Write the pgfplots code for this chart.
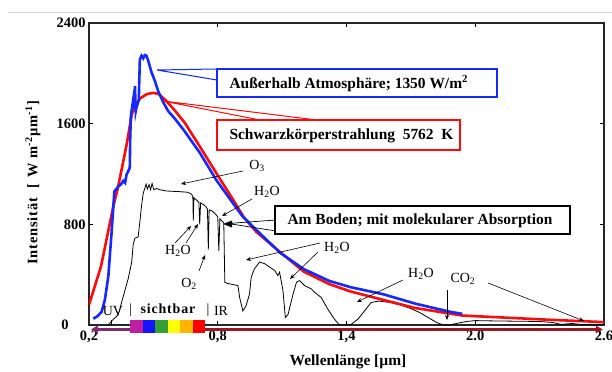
\documentclass[border=0pt]{standalone}
\usepackage{fontspec}
\setmainfont{Liberation Serif}
\newfontfamily\spaced[LetterSpace=6]{Liberation Serif}
\usepackage{pgfplots}
\pgfplotsset{compat=1.18}
\usetikzlibrary{arrows.meta}

\definecolor{extblue}{RGB}{20,40,255}
\definecolor{bbred}{RGB}{255,10,10}
\definecolor{axpurple}{RGB}{125,45,110}
\definecolor{axred}{RGB}{150,25,35}
\definecolor{rulecol}{RGB}{200,215,240}
\definecolor{specmag}{RGB}{190,30,160}
\definecolor{specblue}{RGB}{20,20,255}
\definecolor{specgreen}{RGB}{50,160,50}
\definecolor{specyellow}{RGB}{255,255,0}
\definecolor{specorange}{RGB}{255,180,0}
\definecolor{specred}{RGB}{255,0,0}

\newcommand\boxfont{\fontsize{15.5}{17}\selectfont\bfseries}
\newcommand\lblfont{\fontsize{14}{16}\selectfont}

\begin{document}
\begin{tikzpicture}
\begin{axis}[
  at={(0,0)}, anchor=south west,
  scale only axis, width=515bp, height=302bp,
  xmin=0.2, xmax=2.6, ymin=0, ymax=2400,
  axis line style={line width=1.2bp, black!85},
  xtick={0.2,0.8,1.4,2.0,2.6},
  xticklabels={{0,2},{0,8},{1,4},{2.0},{2.6}},
  ytick={0,800,1600,2400},
  yticklabels={{0\hspace*{17bp}},800,1600,2400},
  tick align=inside, major tick length=4bp,
  tick style={black, line width=0.8bp},
  ticklabel style={font=\fontsize{14.5}{16}\selectfont\bfseries},
  xticklabel style={yshift=-2bp},
]
% ground-level spectrum with molecular absorption bands
\addplot[black, line width=0.8bp] coordinates {
(0.29,0) (0.31,40) (0.336,80) (0.36,230) (0.383,370) (0.399,500) (0.406,640)
(0.414,690) (0.429,700) (0.437,820) (0.445,950) (0.453,1050) (0.46,1085)
(0.466,1120) (0.472,1080) (0.48,1115) (0.487,1075) (0.494,1125) (0.502,1075)
(0.515,1085) (0.53,1075) (0.56,1065) (0.62,1060) (0.66,1055) (0.678,1040)
(0.684,1020) (0.686,830) (0.689,1010) (0.70,995) (0.712,975) (0.716,800)
(0.72,970) (0.735,955) (0.745,940) (0.752,920) (0.756,600) (0.760,915)
(0.775,905) (0.79,880) (0.80,860) (0.805,590) (0.81,845) (0.82,825)
(0.828,815) (0.833,340) (0.845,330) (0.856,327) (0.894,313) (0.902,219)
(0.917,112) (0.932,153) (0.948,246) (0.956,380) (0.971,447) (0.995,500)
(1.019,487) (1.042,460) (1.065,434) (1.08,393) (1.088,420) (1.104,273)
(1.115,59) (1.128,86) (1.151,246) (1.167,340) (1.181,353) (1.205,313)
(1.236,287) (1.251,260) (1.282,219) (1.313,126) (1.344,46) (1.367,0)
(1.398,0) (1.422,5) (1.453,46) (1.484,112) (1.515,179) (1.55,190)
(1.60,180) (1.65,160) (1.70,130) (1.74,100) (1.78,60) (1.82,20) (1.85,0)
(1.88,0) (1.92,15) (1.96,28) (2.0,35) (2.1,32) (2.2,30) (2.3,28) (2.36,20)
(2.4,5) (2.45,12) (2.5,3) (2.55,0) (2.6,5)
};
% black body at 5762 K
\addplot[bbred, line width=2.6bp] coordinates {
(0.2,160) (0.256,466) (0.313,940) (0.336,1100) (0.375,1430) (0.40,1680)
(0.437,1800) (0.47,1835) (0.5,1845) (0.525,1835) (0.555,1790) (0.6,1705)
(0.647,1605) (0.716,1420) (0.794,1205) (0.87,1000) (0.92,860) (0.98,740)
(1.09,580) (1.2,425) (1.32,325) (1.42,266) (1.57,200) (1.72,135)
(1.94,75) (2.1,62) (2.34,42) (2.56,26) (2.6,22)
};
% outside the atmosphere
\addplot[extblue, line width=2.6bp] coordinates {
(0.22,50) (0.24,70) (0.259,105) (0.274,200) (0.29,385) (0.305,730)
(0.318,1060) (0.336,1100) (0.35,1120) (0.36,1145) (0.368,1130) (0.375,1195)
(0.385,1230) (0.39,1250) (0.392,1480) (0.395,1660) (0.406,1790) (0.41,1720)
(0.414,1900) (0.418,1700) (0.422,1735) (0.432,1790) (0.437,2110)
(0.445,2140) (0.453,2120) (0.46,2145) (0.468,2140) (0.476,2100)
(0.491,2010) (0.507,1940) (0.522,1860) (0.546,1770) (0.569,1700)
(0.6,1640) (0.639,1555) (0.716,1370) (0.794,1150) (0.87,970) (0.917,860)
(0.98,755) (1.09,575) (1.2,445) (1.32,350) (1.42,300) (1.57,245)
(1.72,170) (1.88,106) (1.94,88)
};
\end{axis}

% annotations, in picture units (1bp) measured from the top-left corner
\begin{scope}[x=1bp, y=-1bp, shift={(-89,-325)}]
  % header rule
  \draw[rulecol, line width=0.8bp] (8,12.5) -- (612,12.5);

  % wavelength axis arrows and the visible band
  \draw[axpurple, line width=3bp, -{Triangle[length=7bp,width=8bp]}] (130,329.5) -- (91,329.5);
  \draw[axred, line width=2.4bp, -{Triangle[length=7bp,width=7bp]}] (204,329.5) -- (603,329.5);
  \fill[specmag]    (130,320) rectangle (142.5,333);
  \fill[specblue]   (142.5,320) rectangle (155,333);
  \fill[specgreen]  (155,320) rectangle (167.5,333);
  \fill[specyellow] (167.5,320) rectangle (180,333);
  \fill[specorange] (180,320) rectangle (192.5,333);
  \fill[specred]    (192.5,320) rectangle (205,333);
  \draw[black, line width=0.7bp] (111,320) -- (111,326);
  \node[font=\lblfont, inner sep=0pt] at (113,311) {UV};
  \node[font=\lblfont, inner sep=0pt] at (130.5,310) {|};
  \node[font=\fontsize{14}{16}\spaced\bfseries, inner sep=0pt] at (168,309) {sichtbar};
  \node[font=\lblfont, inner sep=0pt] at (208,310) {|};
  \node[font=\lblfont, inner sep=0pt] at (221,311) {IR};

  % axis titles
  \node[font=\fontsize{14.5}{16}\spaced\bfseries, rotate=90] at (33,183)
    {Intensität \ [ \,W m\textsuperscript{-2}µm\textsuperscript{-1}]};
  \node[font=\fontsize{15.5}{17}\selectfont\bfseries] at (348,362) {Wellenlänge [µm]};

  % absorption labels
  \begin{scope}[black, line width=0.6bp, -{Stealth[length=5bp,width=4bp]}]
    \draw (243,171) -- (181,184);
    \draw (252,199) -- (222,216);
    \draw (175,243) -- (191,226);
    \draw (186,243) -- (198,224);
    \draw (199,271) -- (205,255);
    \draw (320,243) -- (246,260);
    \draw (318,252) -- (290,279);
    \draw (403,280) -- (357,302);
    \draw (447,290) -- (447,320);
    \draw (488,283) -- (584,321);
  \end{scope}
  \node[font=\lblfont] at (257,166) {O\textsubscript{3}};
  \node[font=\lblfont] at (267,192) {H\textsubscript{2}O};
  \node[font=\lblfont] at (178,251) {H\textsubscript{2}O};
  \node[font=\lblfont] at (189,284) {O\textsubscript{2}};
  \node[font=\lblfont] at (337,248) {H\textsubscript{2}O};
  \node[font=\lblfont] at (421,274) {H\textsubscript{2}O};
  \node[font=\lblfont] at (463,279) {CO\textsubscript{2}};

  % callout: ground level
  \draw[black, line width=0.7bp] (276,220) -- (228,223.5) -- (276,231);
  \fill[black] (223,224) -- (232,220.5) -- (232,227.5) -- cycle;
  \draw[black, line width=1.3bp, fill=white] (275,206) rectangle (570,234);
  \node[font=\boxfont] at (420,220.5) {Am Boden; mit molekularer Absorption};

  % callout: outside the atmosphere
  \draw[extblue, line width=1bp] (217,69) -- (157,70) -- (217,80);
  \draw[extblue, line width=1.3bp, fill=white] (217,69) rectangle (497,97);
  \node[font=\boxfont, anchor=west] at (226,83.5) {Außerhalb Atmosphäre; 1350 W/m\textsuperscript{2}};

  % callout: black body
  \draw[bbred, line width=1bp] (317,120) -- (163,101) -- (260,120);
  \draw[bbred, line width=1.5bp, fill=white] (217,120) rectangle (460,150);
  \node[font=\boxfont, anchor=west] at (226,135.5) {Schwarzkörperstrahlung \ 5762 \ K};
\end{scope}

\pgfresetboundingbox
\path (-89bp,-47bp) rectangle (523bp,325bp);
\end{tikzpicture}
\end{document}
